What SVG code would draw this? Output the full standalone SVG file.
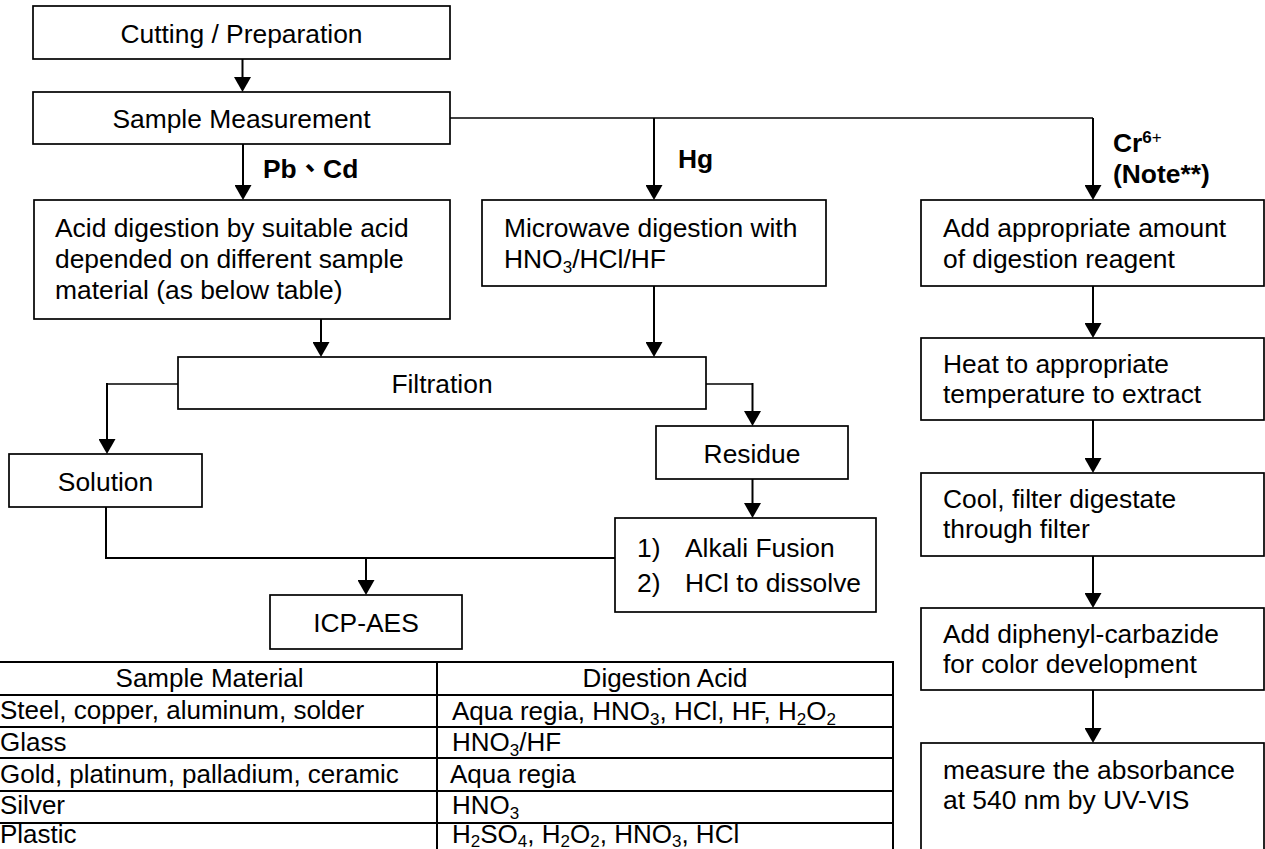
<svg xmlns="http://www.w3.org/2000/svg" width="1265" height="849" viewBox="0 0 1265 849">
<defs>
<marker id="ah" viewBox="0 0 15 17" refX="11" refY="8.5" markerWidth="15" markerHeight="17" markerUnits="userSpaceOnUse" orient="auto">
<path d="M0,0 L15,8.5 L0,17 z" fill="#000"/>
</marker>
<style>
rect.box{fill:#fff;stroke:#000;stroke-width:1.7}
text{font-family:"Liberation Sans",Arial,"Noto Sans CJK TC",sans-serif;font-size:26.4px;fill:#000}
.c{text-anchor:middle}
.b{font-weight:bold}
.s{font-size:17px}
.con line,.con path{stroke:#000;stroke-width:2;fill:none}
.con .h{stroke-width:1.6}
.arr{marker-end:url(#ah)}
.tbl line{stroke:#000;stroke-width:2}
.tbl text{font-size:26px}
.tbl text .s{font-size:17px}
</style>
</defs>
<rect width="1265" height="849" fill="#fff"/>

<g class="con" id="connectors">
<line class="arr" x1="242.5" y1="59" x2="242.5" y2="88"/>
<line class="arr" x1="243" y1="144" x2="243" y2="196"/>
<line class="h" x1="450" y1="118" x2="1093" y2="118"/>
<line class="arr" x1="654" y1="118" x2="654" y2="196"/>
<line class="arr" x1="1093" y1="118" x2="1093" y2="196"/>
<line class="arr" x1="321" y1="319" x2="321" y2="353"/>
<line class="arr" x1="654" y1="286" x2="654" y2="353"/>
<line class="h" x1="178" y1="384" x2="106" y2="384"/>
<line class="arr" x1="107" y1="383" x2="107" y2="450"/>
<line class="h" x1="706" y1="384" x2="753" y2="384"/>
<line class="arr" x1="752.5" y1="383" x2="752.5" y2="422"/>
<line class="arr" x1="752.5" y1="479" x2="752.5" y2="514"/>
<path d="M106,507 L106,558 L615,558"/>
<line class="arr" x1="366" y1="558" x2="366" y2="591"/>
<line class="arr" x1="1093" y1="286" x2="1093" y2="334"/>
<line class="arr" x1="1093" y1="420" x2="1093" y2="469"/>
<line class="arr" x1="1093" y1="556" x2="1093" y2="604"/>
<line class="arr" x1="1093" y1="690" x2="1093" y2="739"/>
</g>

<g id="labels">
<text class="b" x="263" y="178">Pb、Cd</text>
<text class="b" x="678" y="168">Hg</text>
<text class="b" x="1113" y="152">Cr<tspan class="s" dy="-9">6</tspan><tspan class="s" style="font-weight:normal">+</tspan></text>
<text class="b" x="1113" y="183">(Note**)</text>
</g>

<g id="n-cutting">
<rect class="box" x="33" y="6" width="417" height="53"/>
<text class="c" x="241.5" y="43">Cutting / Preparation</text>
</g>
<g id="n-sample">
<rect class="box" x="33" y="92" width="417" height="52"/>
<text class="c" x="241.5" y="128">Sample Measurement</text>
</g>
<g id="n-acid">
<rect class="box" x="34" y="200" width="416" height="119"/>
<text x="55" y="237">Acid digestion by suitable acid</text>
<text x="55" y="268">depended on different sample</text>
<text x="55" y="299">material (as below table)</text>
</g>
<g id="n-microwave">
<rect class="box" x="482" y="200" width="344" height="86"/>
<text x="504" y="237">Microwave digestion with</text>
<text x="504" y="268">HNO<tspan class="s" dy="5">3</tspan><tspan dy="-5">/HCl/HF</tspan></text>
</g>
<g id="n-cr1">
<rect class="box" x="921" y="200" width="343" height="86"/>
<text x="943" y="237">Add appropriate amount</text>
<text x="943" y="268">of digestion reagent</text>
</g>
<g id="n-heat">
<rect class="box" x="921" y="338" width="343" height="82"/>
<text x="943" y="373">Heat to appropriate</text>
<text x="943" y="403">temperature to extract</text>
</g>
<g id="n-cool">
<rect class="box" x="921" y="473" width="343" height="83"/>
<text x="943" y="508">Cool, filter digestate</text>
<text x="943" y="538">through filter</text>
</g>
<g id="n-diphenyl">
<rect class="box" x="921" y="608" width="343" height="82"/>
<text x="943" y="643">Add diphenyl-carbazide</text>
<text x="943" y="673">for color development</text>
</g>
<g id="n-measure">
<rect class="box" x="921" y="743" width="343" height="120"/>
<text x="943" y="779">measure the absorbance</text>
<text x="943" y="809">at 540 nm by UV-VIS</text>
</g>
<g id="n-filtration">
<rect class="box" x="178" y="357" width="528" height="52"/>
<text class="c" x="442" y="393">Filtration</text>
</g>
<g id="n-solution">
<rect class="box" x="9" y="454" width="193" height="53"/>
<text class="c" x="105.5" y="491">Solution</text>
</g>
<g id="n-residue">
<rect class="box" x="656" y="426" width="192" height="53"/>
<text class="c" x="752" y="463">Residue</text>
</g>
<g id="n-alkali">
<rect class="box" x="615" y="518" width="261" height="94"/>
<text x="637" y="557">1)</text>
<text x="685" y="557">Alkali Fusion</text>
<text x="637" y="592">2)</text>
<text x="685" y="592">HCl to dissolve</text>
</g>
<g id="n-icp">
<rect class="box" x="270" y="595" width="192" height="54"/>
<text class="c" x="366" y="632">ICP-AES</text>
</g>

<g id="table" class="tbl">
<line x1="-5" y1="662" x2="893" y2="662"/>
<line x1="-5" y1="695" x2="893" y2="695"/>
<line x1="-5" y1="727" x2="893" y2="727"/>
<line x1="-5" y1="758" x2="893" y2="758"/>
<line x1="-5" y1="791" x2="893" y2="791"/>
<line x1="-5" y1="823" x2="893" y2="823"/>
<line x1="437" y1="661" x2="437" y2="860"/>
<line x1="893" y1="661" x2="893" y2="860"/>
<text class="c" x="209.5" y="687">Sample Material</text>
<text class="c" x="665" y="687">Digestion Acid</text>
<text x="0" y="719">Steel, copper, aluminum, solder</text>
<text x="0" y="751">Glass</text>
<text x="0" y="783">Gold, platinum, palladium, ceramic</text>
<text x="0" y="814">Silver</text>
<text x="0" y="843">Plastic</text>
<text x="452" y="720">Aqua regia, HNO<tspan class="s" dy="5">3</tspan><tspan dy="-5">, HCl, HF, H</tspan><tspan class="s" dy="5">2</tspan><tspan dy="-5">O</tspan><tspan class="s" dy="5">2</tspan></text>
<text x="452" y="751">HNO<tspan class="s" dy="5">3</tspan><tspan dy="-5">/HF</tspan></text>
<text x="450" y="783">Aqua regia</text>
<text x="452" y="814">HNO<tspan class="s" dy="5">3</tspan></text>
<text x="452" y="843">H<tspan class="s" dy="4">2</tspan><tspan dy="-4">SO</tspan><tspan class="s" dy="4">4</tspan><tspan dy="-4">, H</tspan><tspan class="s" dy="4">2</tspan><tspan dy="-4">O</tspan><tspan class="s" dy="4">2</tspan><tspan dy="-4">, HNO</tspan><tspan class="s" dy="4">3</tspan><tspan dy="-4">, HCl</tspan></text>
</g>
</svg>
